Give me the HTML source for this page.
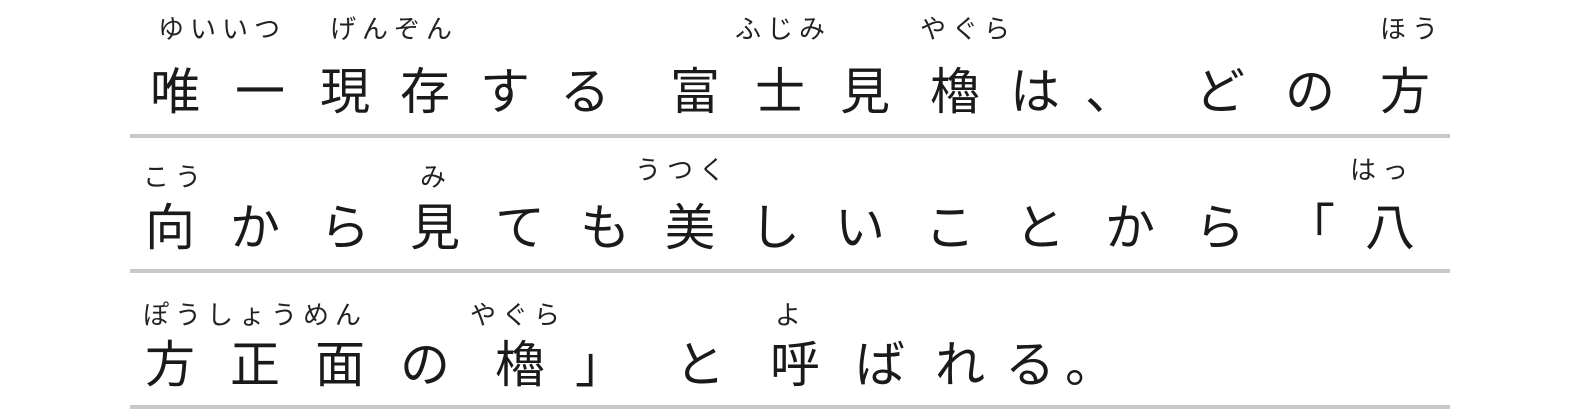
<!DOCTYPE html>
<html><head><meta charset="utf-8"><style>
body{margin:0;width:1572px;height:416px;background:#fff;position:relative;overflow:hidden;font-family:"Liberation Sans","Noto Sans CJK JP",sans-serif;color:#1a1a1a}
.rule{position:absolute;left:130px;width:1320px;height:4px;background:#c8c8c8}
.line span{position:absolute;font-size:50px;line-height:60px;width:60px;text-align:center}
.line{position:absolute;left:0}
.f{position:absolute;font-size:26px;line-height:30px;letter-spacing:6px;color:#222}
</style></head><body>
<div class="rule" style="top:134px"></div>
<div class="rule" style="top:269px"></div>
<div class="rule" style="top:405px"></div>

<div class="f" style="left:158px;top:14px">ゆいいつ</div>
<div class="f" style="left:330px;top:14px">げんぞん</div>
<div class="f" style="left:735px;top:14px">ふじみ</div>
<div class="f" style="left:920px;top:14px">やぐら</div>
<div class="f" style="left:1380px;top:14px">ほう</div>

<div class="f" style="left:143px;top:162px">こう</div>
<div class="f" style="left:420px;top:162px">み</div>
<div class="f" style="left:635px;top:155px">うつく</div>
<div class="f" style="left:1350px;top:155px">はっ</div>

<div class="f" style="left:143px;top:300px">ぽうしょうめん</div>
<div class="f" style="left:470px;top:300px">やぐら</div>
<div class="f" style="left:775px;top:300px">よ</div>

<div class="line" style="top:62px">
<span style="left:145px">唯</span><span style="left:230px">一</span><span style="left:315px">現</span><span style="left:395px">存</span><span style="left:475px">す</span><span style="left:555px">る</span><span style="left:665px">富</span><span style="left:750px">士</span><span style="left:835px">見</span><span style="left:925px">櫓</span><span style="left:1005px">は</span><span style="left:1080px">、</span><span style="left:1190px">ど</span><span style="left:1280px">の</span><span style="left:1375px">方</span>
</div>
<div class="line" style="top:198px">
<span style="left:140px">向</span><span style="left:225px">か</span><span style="left:315px">ら</span><span style="left:405px">見</span><span style="left:490px">て</span><span style="left:575px">も</span><span style="left:660px">美</span><span style="left:745px">し</span><span style="left:830px">い</span><span style="left:920px">こ</span><span style="left:1010px">と</span><span style="left:1100px">か</span><span style="left:1190px">ら</span><span style="left:1280px">「</span><span style="left:1360px">八</span>
</div>
<div class="line" style="top:335px">
<span style="left:140px">方</span><span style="left:225px">正</span><span style="left:310px">面</span><span style="left:395px">の</span><span style="left:490px">櫓</span><span style="left:570px">」</span><span style="left:670px">と</span><span style="left:765px">呼</span><span style="left:850px">ば</span><span style="left:930px">れ</span><span style="left:1000px">る</span><span style="left:1060px">。</span>
</div>
</body></html>
